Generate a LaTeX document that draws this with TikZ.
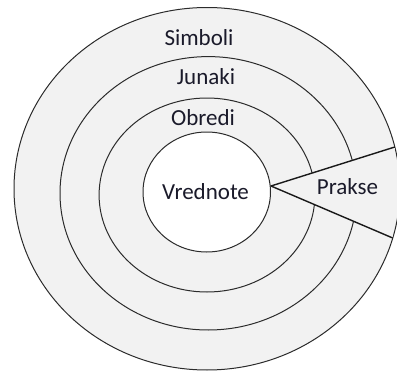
\documentclass[tikz,border=0pt]{standalone}
\usepackage{fontspec}
\setmainfont{Carlito}
\usetikzlibrary{shapes.geometric}
\definecolor{ringgray}{HTML}{F2F2F2}
\definecolor{linegray}{HTML}{2B2B2B}
\definecolor{txt}{HTML}{1A1A2A}
\tikzset{
  ring/.style={ellipse, draw=linegray, line width=1pt, inner sep=0pt, outer sep=0pt},
  lbl/.style={text=txt, font=\fontsize{23}{27}\selectfont, inner sep=0pt},
  wedgeline/.style={draw=black!90, line width=1.4pt}
}
\begin{document}
\begin{tikzpicture}[x=1pt, y=-1pt]
\useasboundingbox (0,0) rectangle (397,372);
\node[ring, fill=ringgray, minimum width=386pt, minimum height=362.5pt] (outer) at (207,188.75) {};
\node[ring, minimum width=296.6pt, minimum height=273.4pt] (ringtwo) at (208.3,193.3) {};
\node[ring, minimum width=215.8pt, minimum height=194pt] (ringthree) at (207,195) {};
\coordinate (apex) at (271,186);
\coordinate (uc) at (394.8,147);
\coordinate (lc) at (392.7,238);
\fill[ringgray] (apex) -- (uc) -- (lc) -- cycle;
\draw[wedgeline] (uc) -- (apex) -- (lc);
\node[ring, fill=white, minimum width=127.5pt, minimum height=120pt] (inner) at (206.75,192) {};
\node[lbl] (simboli) at (199,38) {Simboli};
\node[lbl] (junaki) at (206,77) {Junaki};
\node[lbl] (obredi) at (203,118) {Obredi};
\node[lbl] (vrednote) at (205.5,192) {Vrednote};
\node[lbl] (prakse) at (347.5,187) {Prakse};
\end{tikzpicture}
\end{document}
